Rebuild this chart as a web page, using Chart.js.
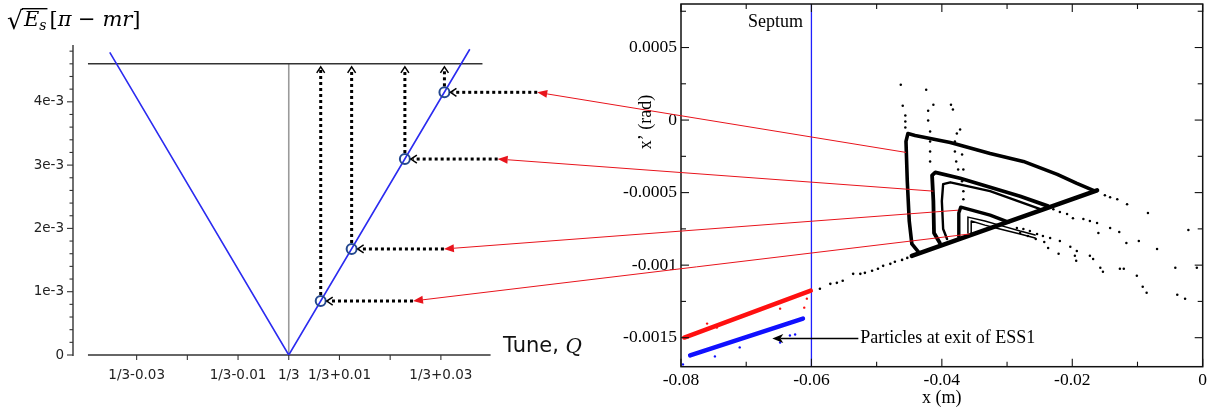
<!DOCTYPE html>
<html><head><meta charset="utf-8">
<script src="https://cdn.jsdelivr.net/npm/chart.js@4.4.0/dist/chart.umd.min.js"></script>
<style>
html,body{margin:0;padding:0;background:#fff;width:1221px;height:411px;overflow:hidden}
canvas{position:absolute;top:0}
#left{left:0}
#right{left:600px}
#over{left:0;pointer-events:none;z-index:5}
</style></head><body>
<canvas id="left" width="600" height="411"></canvas>
<canvas id="right" width="621" height="411"></canvas>
<canvas id="over" width="1221" height="411"></canvas>
<script>
// ===== Left panel: sqrt(Es)[pi - m r] vs tune (x = Q - 1/3) =====
const vLineX = [-0.0353, 0, 0.0357];
const vLineY = [4.78e-3, 0, 4.83e-3];
const circleX = [0.0063, 0.0124, 0.0229, 0.0307];
const circleY = [0.853e-3, 1.675e-3, 3.096e-3, 4.15e-3];
const arrowTipX = [0.0245, 0.0306, 0.0412, 0.0490];
const topLevel = 4.6e-3;
const topLineX = [-0.0396, 0.0382];
const leftXAxisExtent = [-0.0396, 0.0398];
const leftXTicks = [-0.03, -0.02, -0.01, 0, 0.01, 0.02, 0.03];
const leftXTickLabels = ['1/3-0.03', '', '1/3-0.01', '1/3', '1/3+0.01', '', '1/3+0.03'];
const leftYTicks = [0, 1e-3, 2e-3, 3e-3, 4e-3];
const leftYTickLabels = ['0', '1e-3', '2e-3', '3e-3', '4e-3'];

// ===== Right panel: phase space x (m) vs x' (rad) =====
const loop1X = [-0.0165,-0.0193,-0.0223,-0.0275,-0.0326,-0.0387,-0.0441,-0.0452,-0.0455,-0.0453,-0.0450,-0.0446,-0.0436];
const loop1Y = [-4.90e-4,-4.36e-4,-3.74e-4,-2.85e-4,-2.30e-4,-1.54e-4,-1.06e-4,-0.93e-4,-1.47e-4,-4.22e-4,-6.96e-4,-8.54e-4,-9.09e-4];
const baseX = [-0.0446, -0.0162];
const baseY = [-9.36e-4, -4.84e-4];
const loop2X = [-0.0237,-0.0280,-0.0326,-0.0372,-0.0410,-0.0415,-0.0413,-0.0412,-0.0403];
const loop2Y = [-5.93e-4,-5.25e-4,-4.63e-4,-4.01e-4,-3.60e-4,-3.81e-4,-5.59e-4,-7.78e-4,-8.47e-4];
const loop2bX = [-0.0249,-0.0326,-0.0387,-0.0398,-0.0400,-0.0398,-0.0392];
const loop2bY = [-6.14e-4,-4.90e-4,-4.29e-4,-4.42e-4,-5.59e-4,-7.51e-4,-8.20e-4];
const loop3X = [-0.0298,-0.0326,-0.0371,-0.0374,-0.0374];
const loop3Y = [-7.03e-4,-6.55e-4,-6.00e-4,-6.41e-4,-8.06e-4];
const loop4aX = [-0.0257,-0.0280,-0.0312,-0.0334,-0.0360,-0.0360];
const loop4aY = [-7.92e-4,-7.65e-4,-7.24e-4,-6.96e-4,-6.69e-4,-7.78e-4];
const loop4bX = [-0.0257,-0.0280,-0.0311,-0.0334,-0.0355,-0.0355];
const loop4bY = [-8.13e-4,-7.85e-4,-7.51e-4,-7.24e-4,-6.96e-4,-7.78e-4];
const trailX = [-0.0587,-0.0571,-0.0561,-0.0552,-0.0536,-0.0525,-0.0518,-0.0507,-0.0498,-0.0490,-0.0479,-0.0472,-0.0461,-0.0453,-0.0446];
const trailY = [-11.63e-4,-11.29e-4,-11.22e-4,-11.08e-4,-10.60e-4,-10.60e-4,-10.53e-4,-10.39e-4,-10.25e-4,-10.05e-4,-9.91e-4,-9.77e-4,-9.64e-4,-9.50e-4,-9.36e-4];
const dotsX = [-0.0463,-0.0424,-0.0460,-0.0421,-0.0413,-0.0386,-0.0383,-0.0421,-0.0372,-0.0377,
  -0.0456,-0.0456,-0.0456,-0.0418,-0.0418,-0.0418,-0.0418,-0.0380,-0.0380,-0.0378,-0.0375,-0.0369,-0.0367,-0.0367,-0.0369,-0.0367,
  -0.0150,-0.0142,-0.0131,-0.0116,-0.0084,-0.0022,
  -0.0229,-0.0219,-0.0208,-0.0199,-0.0183,-0.0173,-0.0162,-0.0142,-0.0128,-0.0117,-0.0098,-0.0070,-0.0160,
  -0.0285,-0.0275,-0.0265,-0.0254,-0.0245,-0.0234,-0.0219,-0.0203,-0.0193,
  -0.0280,-0.0268,-0.0256,-0.0243,-0.0237,-0.0221,-0.0196,-0.0194,-0.0173,-0.0168,-0.0157,-0.0153,-0.0127,-0.0121,-0.0101,-0.0092,-0.0086,-0.0042,-0.0039,-0.0027,-0.0009];
const dotsY = [2.43e-4,2.09e-4,0.99e-4,0.65e-4,1.06e-4,1.06e-4,0.72e-4,-0.03e-4,-0.65e-4,-0.93e-4,
  0.31e-4,-0.10e-4,-0.51e-4,-0.79e-4,-1.47e-4,-2.16e-4,-2.85e-4,-1.47e-4,-2.16e-4,-2.85e-4,-3.40e-4,-4.22e-4,-4.90e-4,-5.45e-4,-2.37e-4,-3.40e-4,
  -5.18e-4,-5.32e-4,-5.45e-4,-5.80e-4,-6.41e-4,-7.58e-4,
  -6.14e-4,-6.34e-4,-6.48e-4,-6.76e-4,-6.82e-4,-6.96e-4,-7.10e-4,-7.44e-4,-7.72e-4,-8.47e-4,-8.33e-4,-8.88e-4,-7.78e-4,
  -7.44e-4,-7.51e-4,-7.65e-4,-7.85e-4,-7.99e-4,-8.13e-4,-8.33e-4,-8.74e-4,-9.02e-4,
  -7.78e-4,-7.99e-4,-8.20e-4,-8.40e-4,-8.81e-4,-9.22e-4,-9.36e-4,-9.70e-4,-9.36e-4,-9.57e-4,-10.18e-4,-10.46e-4,-10.25e-4,-10.25e-4,-10.73e-4,-11.49e-4,-11.90e-4,-10.18e-4,-12.04e-4,-12.31e-4,-10.18e-4];
const redBandX = [-0.0795, -0.0601];
const redBandY = [-14.99e-4, -11.76e-4];
const redDotX = [-0.0611,-0.0607,-0.0648,-0.0760,-0.0745];
const redDotY = [-12.93e-4,-12.31e-4,-13.00e-4,-14.03e-4,-14.30e-4];
const blueBandX = [-0.0786, -0.0613];
const blueBandY = [-16.22e-4, -13.68e-4];
const blueDotX = [-0.0633,-0.0625,-0.0748,-0.0797,-0.0648,-0.0710];
const blueDotY = [-14.85e-4,-14.78e-4,-16.29e-4,-16.84e-4,-15.33e-4,-15.67e-4];
const septumX = -0.06;
const arrowSrcX = [-0.0357, -0.0375, -0.0413, -0.0455];
const arrowSrcY = [-7.85e-4, -6.21e-4, -4.90e-4, -2.23e-4];
const annotTip = {x: -0.0660, y: -15.06e-4};
const annotText = {x: -0.0525, y: -15.06e-4};
const rightXTicks = [-0.08, -0.06, -0.04, -0.02, 0];
const rightXTickLabels = ['-0.08', '-0.06', '-0.04', '-0.02', '0'];
const rightYTicks = [-0.0015, -0.001, -0.0005, 0, 0.0005];
const rightYTickLabels = ['-0.0015', '-0.001', '-0.0005', '0', '0.0005'];

const pts = (xs, ys) => xs.map((x, i) => ({x, y: ys[i]}));
function seg(ctx, x1, y1, x2, y2){ctx.beginPath();ctx.moveTo(x1,y1);ctx.lineTo(x2,y2);ctx.stroke();}
function noPad(s){ s.paddingTop = 0; s.paddingBottom = 0; s.paddingLeft = 0; s.paddingRight = 0; }

// ---------- left chart ----------
const leftDecor = {
  id: 'leftDecor',
  beforeDatasetsDraw(chart){
    const {ctx, scales:{x, y}, chartArea} = chart;
    ctx.save();
    ctx.strokeStyle = '#333'; ctx.lineWidth = 1.4;
    const y0 = y.getPixelForValue(0);
    seg(ctx, x.getPixelForValue(leftXAxisExtent[0]), y0, x.getPixelForValue(leftXAxisExtent[1]), y0);
    const ax = chartArea.left;
    seg(ctx, ax, y0 + 1, ax, chartArea.top - 3);
    ctx.lineWidth = 1.1;
    for (let i = 0; i <= 24; i++) {
      const v = i * 0.2e-3;
      const py = y.getPixelForValue(v);
      seg(ctx, ax - (i % 5 === 0 ? 6 : 3.5), py, ax, py);
    }
    leftXTicks.forEach(v => { const px = x.getPixelForValue(v); seg(ctx, px, y0, px, y0 + 5); });
    ctx.restore();
  },
  afterDatasetsDraw(chart){
    const {ctx, scales:{x, y}} = chart;
    ctx.save();
    const r = 5;
    const yTop = y.getPixelForValue(topLevel) + 3;
    circleX.forEach((cx, i) => {
      const px = x.getPixelForValue(cx), py = y.getPixelForValue(circleY[i]);
      const tx = x.getPixelForValue(arrowTipX[i]);
      ctx.strokeStyle = '#000'; ctx.lineWidth = 3; ctx.setLineDash([3, 3]);
      seg(ctx, px, py - r - 1, px, yTop + 2);
      seg(ctx, tx, py, px + r + 3, py);
      ctx.setLineDash([]); ctx.lineWidth = 1.5;
      ctx.beginPath(); ctx.moveTo(px - 4, yTop + 6); ctx.lineTo(px, yTop); ctx.lineTo(px + 4, yTop + 6); ctx.stroke();
      const hx = px + r + 1;
      ctx.beginPath(); ctx.moveTo(hx + 6, py - 4); ctx.lineTo(hx, py); ctx.lineTo(hx + 6, py + 4); ctx.stroke();
    });
    // title  sqrt(E_s)[pi - m r]
    ctx.fillStyle = '#000'; ctx.strokeStyle = '#000';
    ctx.textBaseline = 'alphabetic';
    ctx.font = '25px "DejaVu Sans"';
    const bx = 7, by = 29;
    ctx.fillText('\u221A', bx, by);
    const m = ctx.measureText('\u221A');
    const rTop = by - m.actualBoundingBoxAscent;
    let cx = bx + m.width;
    ctx.font = 'italic 21px "DejaVu Serif"';
    const eStart = cx + 1;
    ctx.fillText('E', eStart, by - 3);
    cx = eStart + ctx.measureText('E').width;
    ctx.font = 'italic 14px "DejaVu Serif"';
    ctx.fillText('s', cx, by + 1);
    cx += ctx.measureText('s').width + 1;
    ctx.lineWidth = 1.4;
    seg(ctx, bx + m.width - 1, rTop + 0.7, cx, rTop + 0.7);
    cx += 2;
    const parts = [['[', ''], ['\u03C0', 'italic '], [' \u2212 ', ''], ['mr', 'italic '], [']', '']];
    parts.forEach(([t, st]) => {
      ctx.font = st + '21px "DejaVu Serif"';
      ctx.fillText(t, cx, by - 3);
      cx += ctx.measureText(t).width;
    });
    // Tune, Q
    ctx.font = '21px "DejaVu Sans"';
    ctx.fillStyle = '#111';
    ctx.textBaseline = 'middle';
    ctx.fillText('Tune, ', 503, 347);
    const tw = ctx.measureText('Tune, ').width;
    ctx.font = 'italic 20px "DejaVu Serif"';
    ctx.fillText('Q', 503 + tw, 348);
    ctx.restore();
  }
};

const leftChart = new Chart(document.getElementById('left'), {
  type: 'scatter',
  data: { datasets: [
    { data: pts(circleX, circleY), pointRadius: 5, pointBorderWidth: 2, borderColor: '#24488f', backgroundColor: 'rgba(0,0,0,0)', showLine: false, order: 0 },
    { data: pts(vLineX, vLineY), showLine: true, borderColor: '#2b2bf0', borderWidth: 1.6, pointRadius: 0, order: 1 },
    { data: pts(topLineX, [topLevel, topLevel]), showLine: true, borderColor: '#333', borderWidth: 1.4, pointRadius: 0, order: 2 },
    { data: pts([0, 0], [0, topLevel]), showLine: true, borderColor: '#9a9a9a', borderWidth: 1.6, pointRadius: 0, order: 3 }
  ]},
  options: {
    responsive: false, animation: false, devicePixelRatio: 1,
    layout: { padding: { left: 0, right: 4, top: 48, bottom: 0 } },
    plugins: { legend: { display: false }, tooltip: { enabled: false } },
    scales: {
      x: { type: 'linear', min: -0.04255, max: 0.06,
        afterBuildTicks: s => { s.ticks = leftXTicks.map(v => ({value: v})); },
        afterFit: s => { s.height = 56; noPad(s); },
        grid: { display: false, drawTicks: true, tickLength: 5 }, border: { display: false },
        ticks: { autoSkip: false, maxRotation: 0, minRotation: 0, padding: 7, color: '#222',
          font: { family: 'DejaVu Sans', size: 13.5 },
          callback: (v, i) => leftXTickLabels[i] } },
      y: { type: 'linear', min: 0, max: 4.85e-3,
        afterBuildTicks: s => { s.ticks = leftYTicks.map(v => ({value: v})); },
        afterFit: s => { s.width = 73; noPad(s); },
        grid: { display: false, drawTicks: true, tickLength: 6 }, border: { display: false },
        ticks: { padding: 3, color: '#222', font: { family: 'DejaVu Sans', size: 13.5 },
          callback: (v, i) => leftYTickLabels[i] } }
    }
  },
  plugins: [leftDecor]
});

// ---------- right chart ----------
const rightDecor = {
  id: 'rightDecor',
  afterDatasetsDraw(chart){
    const {ctx, scales:{x, y}, chartArea:a} = chart;
    ctx.save();
    ctx.strokeStyle = '#111'; ctx.lineWidth = 1.5;
    ctx.strokeRect(a.left, a.top, a.right - a.left, a.bottom - a.top);
    ctx.lineWidth = 1.1;
    for (let i = 0; i <= 8; i++) {
      const v = -0.08 + i * 0.01, px = x.getPixelForValue(v), L = i % 2 === 0 ? 8 : 5;
      seg(ctx, px, a.bottom, px, a.bottom - L); seg(ctx, px, a.top, px, a.top + L);
    }
    for (let i = 0; i <= 10; i++) {
      const v = -0.0017 + 0.0002 + i * 0.00025, py = y.getPixelForValue(v), L = i % 2 === 0 ? 8 : 5;
      seg(ctx, a.left, py, a.left + L, py); seg(ctx, a.right, py, a.right - L, py);
    }
    ctx.fillStyle = '#000';
    ctx.font = '18px "Liberation Serif"';
    ctx.textAlign = 'center'; ctx.textBaseline = 'middle';
    ctx.fillText('Septum', x.getPixelForValue(septumX) - 36, 22);
    ctx.fillText('x (m)', (a.left + a.right) / 2, 398);
    ctx.save();
    ctx.translate(46, 122); ctx.rotate(-Math.PI / 2);
    ctx.fillText("x\u2019 (rad)", 0, 0);
    ctx.restore();
    // annotation arrow
    const tx = x.getPixelForValue(annotTip.x), ty = y.getPixelForValue(annotTip.y);
    const sx = x.getPixelForValue(annotText.x);
    ctx.strokeStyle = '#000'; ctx.lineWidth = 1.5;
    seg(ctx, tx + 8, ty, sx - 2, ty);
    ctx.beginPath(); ctx.moveTo(tx, ty); ctx.lineTo(tx + 11, ty - 4.5); ctx.lineTo(tx + 8, ty); ctx.lineTo(tx + 11, ty + 4.5); ctx.closePath(); ctx.fill();
    ctx.textAlign = 'left';
    ctx.fillText('Particles at exit of ESS1', sx, ty);
    ctx.restore();
  }
};

const lineDs = (xs, ys, w, c) => ({ data: pts(xs, ys), showLine: true, borderColor: c || '#000', borderWidth: w, pointRadius: 0, borderJoinStyle: 'round', borderCapStyle: 'round' });
const dotDs = (xs, ys, c, r) => ({ data: pts(xs, ys), showLine: false, pointRadius: r || 1.2, borderWidth: 0, backgroundColor: c, borderColor: c });

const rightChart = new Chart(document.getElementById('right'), {
  type: 'scatter',
  data: { datasets: [
    lineDs(loop1X, loop1Y, 3.6),
    lineDs(baseX, baseY, 4.5),
    lineDs(loop2X, loop2Y, 3.8),
    lineDs(loop2bX, loop2bY, 2.4),
    lineDs(loop3X, loop3Y, 3.4),
    lineDs(loop4aX, loop4aY, 1.5),
    lineDs(loop4bX, loop4bY, 1.5),
    dotDs(trailX, trailY, '#000', 1.3),
    dotDs(dotsX, dotsY, '#000', 1.25),
    lineDs(redBandX, redBandY, 4.5, '#ff1010'),
    dotDs(redDotX, redDotY, '#ff1010', 1.2),
    lineDs(blueBandX, blueBandY, 4.5, '#1010ff'),
    dotDs(blueDotX, blueDotY, '#1010ff', 1.2),
    lineDs([septumX, septumX], [-0.0017, 0.0008], 1.3, '#2020ff')
  ]},
  options: {
    responsive: false, animation: false, devicePixelRatio: 1,
    layout: { padding: { left: 0, right: 18.3, top: 2.2, bottom: 0 } },
    plugins: { legend: { display: false }, tooltip: { enabled: false } },
    scales: {
      x: { type: 'linear', min: -0.08, max: 0,
        afterBuildTicks: s => { s.ticks = rightXTicks.map(v => ({value: v})); },
        afterFit: s => { s.height = 44.3; noPad(s); },
        grid: { display: false, drawTicks: false }, border: { display: false },
        ticks: { autoSkip: false, maxRotation: 0, padding: 3, color: '#000',
          font: { family: 'Liberation Serif', size: 17.5 }, callback: (v, i) => rightXTickLabels[i] } },
      y: { type: 'linear', min: -0.0017, max: 0.0008,
        afterBuildTicks: s => { s.ticks = rightYTicks.map(v => ({value: v})); },
        afterFit: s => { s.width = 81; noPad(s); },
        grid: { display: false, drawTicks: false }, border: { display: false },
        ticks: { padding: 4, color: '#000',
          font: { family: 'Liberation Serif', size: 17.5 }, callback: (v, i) => rightYTickLabels[i] } }
    }
  },
  plugins: [rightDecor]
});

// ---------- overlay: red arrows linking both panels ----------
(function(){
  const oc = document.getElementById('over').getContext('2d');
  const rightLeft = 600;
  oc.strokeStyle = '#e8141c'; oc.fillStyle = '#e8141c'; oc.lineWidth = 1;
  arrowSrcX.forEach((sxv, i) => {
    const x1 = rightChart.scales.x.getPixelForValue(sxv) + rightLeft;
    const y1 = rightChart.scales.y.getPixelForValue(arrowSrcY[i]);
    const x2 = leftChart.scales.x.getPixelForValue(arrowTipX[i]);
    const y2 = leftChart.scales.y.getPixelForValue(circleY[i]);
    const ang = Math.atan2(y1 - y2, x1 - x2);
    const L = 10, H = 4;
    const bx = x2 + L * Math.cos(ang), by = y2 + L * Math.sin(ang);
    oc.beginPath(); oc.moveTo(x1, y1); oc.lineTo(bx, by); oc.stroke();
    oc.beginPath(); oc.moveTo(x2, y2);
    oc.lineTo(bx - H * Math.sin(ang), by + H * Math.cos(ang));
    oc.lineTo(bx + H * Math.sin(ang), by - H * Math.cos(ang));
    oc.closePath(); oc.fill();
  });
})();
</script>
</body></html>
